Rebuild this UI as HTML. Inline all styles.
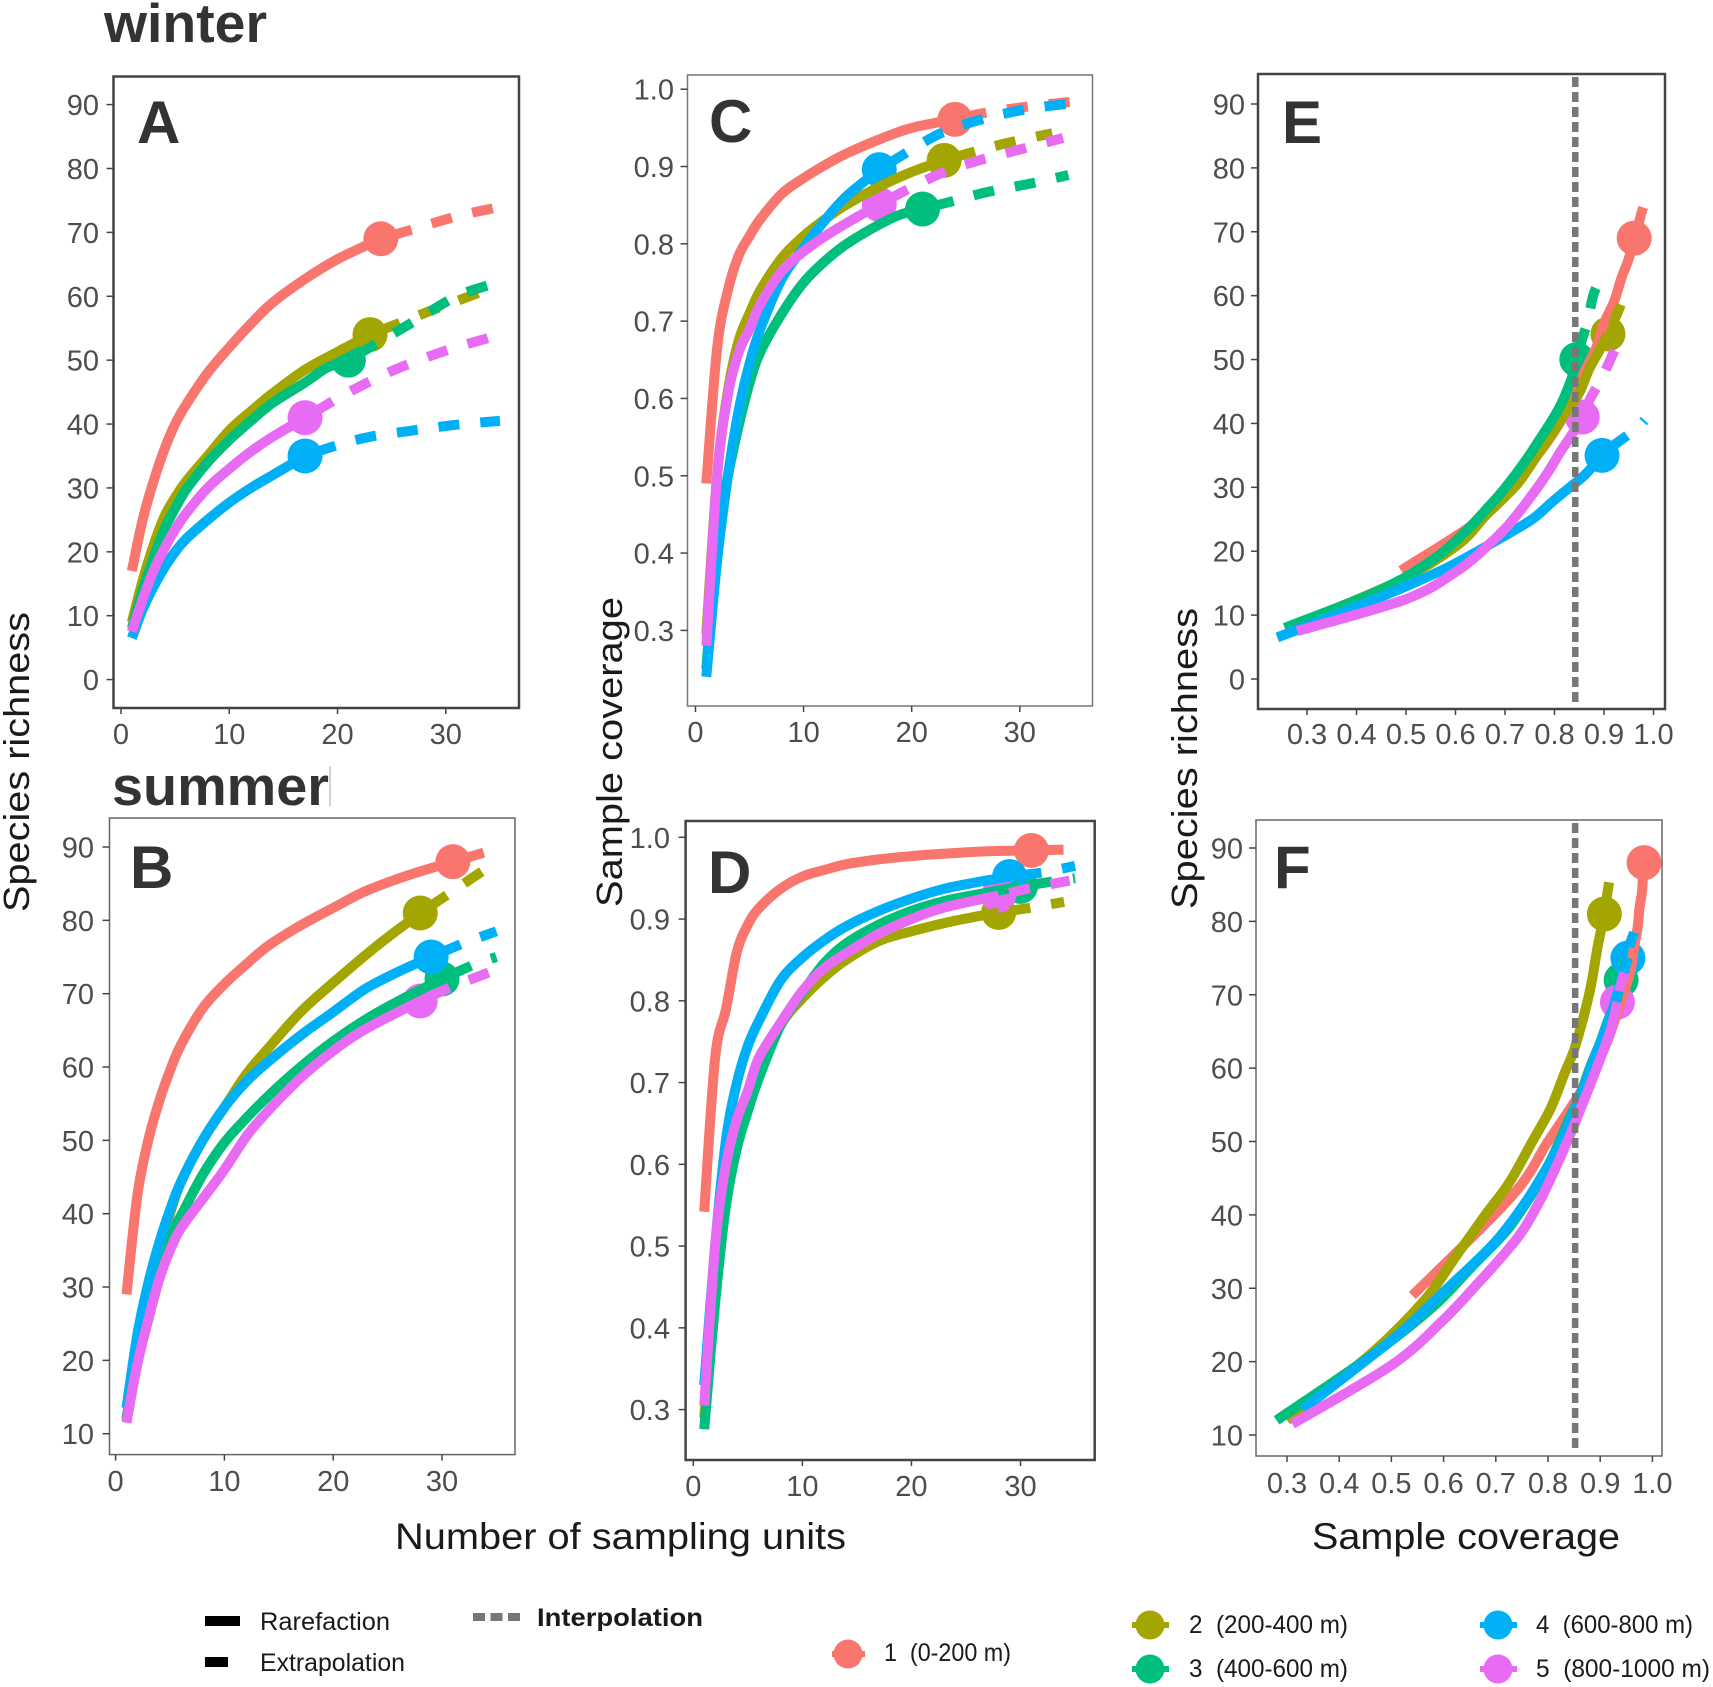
<!DOCTYPE html>
<html lang="en">
<head>
<meta charset="utf-8">
<title>Species richness and sample coverage curves</title>
<style>
html,body{margin:0;padding:0;background:#fff;}
svg{display:block;font-family:"Liberation Sans",sans-serif;}
</style>
</head>
<body>
<svg id="figure" xmlns="http://www.w3.org/2000/svg" width="1713" height="1687" viewBox="0 0 1713 1687">
  <rect x="0" y="0" width="1713" height="1687" fill="#ffffff"/>
  <text x="104" y="42" font-size="55" font-weight="bold" fill="#333333" textLength="163" lengthAdjust="spacingAndGlyphs">winter</text>
  <text x="112" y="805" font-size="55" font-weight="bold" fill="#333333" textLength="217" lengthAdjust="spacingAndGlyphs">summer</text>
  <line x1="330" y1="766" x2="330" y2="806" stroke="#c4c4c4" stroke-width="1.5"/>

  <g id="plots"></g>

  <text x="137" y="143" font-size="60" font-weight="bold" fill="#333333">A</text>
  <text x="130" y="888" font-size="60" font-weight="bold" fill="#333333">B</text>
  <text x="709" y="142" font-size="60" font-weight="bold" fill="#333333">C</text>
  <text x="708" y="893" font-size="60" font-weight="bold" fill="#333333">D</text>
  <text x="1282" y="143" font-size="60" font-weight="bold" fill="#333333">E</text>
  <text x="1274" y="888" font-size="60" font-weight="bold" fill="#333333">F</text>

  <text transform="translate(29,912) rotate(-90)" font-size="36" fill="#1a1a1a" textLength="300" lengthAdjust="spacingAndGlyphs">Species richness</text>
  <text transform="translate(622,907) rotate(-90)" font-size="36" fill="#1a1a1a" textLength="310" lengthAdjust="spacingAndGlyphs">Sample coverage</text>
  <text transform="translate(1197,909) rotate(-90)" font-size="36" fill="#1a1a1a" textLength="301" lengthAdjust="spacingAndGlyphs">Species richness</text>
  <text x="395" y="1549" font-size="37" fill="#1a1a1a" textLength="451" lengthAdjust="spacingAndGlyphs">Number of sampling units</text>
  <text x="1312" y="1549" font-size="37" fill="#1a1a1a" textLength="308" lengthAdjust="spacingAndGlyphs">Sample coverage</text>

  <g>
    <rect x="205" y="1616" width="35" height="10" fill="#000000"/>
    <text x="260" y="1630" font-size="25" fill="#1a1a1a" textLength="130" lengthAdjust="spacingAndGlyphs">Rarefaction</text>
    <rect x="205" y="1657" width="23" height="10" fill="#000000"/>
    <text x="260" y="1671" font-size="25" fill="#1a1a1a" textLength="145" lengthAdjust="spacingAndGlyphs">Extrapolation</text>
    <line x1="473" y1="1617" x2="520" y2="1617" stroke="#777777" stroke-width="8" stroke-dasharray="12 5.5"/>
    <text x="537" y="1626" font-size="25" font-weight="bold" fill="#1a1a1a" textLength="166" lengthAdjust="spacingAndGlyphs">Interpolation</text>
  </g>

  <g>
    <g>
      <line x1="832" y1="1654" x2="865" y2="1654" stroke="#F8766D" stroke-width="6"/>
      <circle cx="848" cy="1654" r="14.5" fill="#F8766D"/>
      <text x="884" y="1661" font-size="25" fill="#1a1a1a" xml:space="preserve" textLength="127" lengthAdjust="spacingAndGlyphs">1  (0-200 m)</text>
    </g>
    <g>
      <line x1="1132" y1="1625" x2="1169" y2="1625" stroke="#A3A500" stroke-width="6"/>
      <circle cx="1150" cy="1625" r="14.5" fill="#A3A500"/>
      <text x="1189" y="1633" font-size="25" fill="#1a1a1a" xml:space="preserve" textLength="159" lengthAdjust="spacingAndGlyphs">2  (200-400 m)</text>
    </g>
    <g>
      <line x1="1132" y1="1669" x2="1169" y2="1669" stroke="#00BF7D" stroke-width="6"/>
      <circle cx="1150" cy="1669" r="14.5" fill="#00BF7D"/>
      <text x="1189" y="1677" font-size="25" fill="#1a1a1a" xml:space="preserve" textLength="159" lengthAdjust="spacingAndGlyphs">3  (400-600 m)</text>
    </g>
    <g>
      <line x1="1480" y1="1625" x2="1517" y2="1625" stroke="#00B0F6" stroke-width="6"/>
      <circle cx="1498" cy="1625" r="14.5" fill="#00B0F6"/>
      <text x="1536" y="1633" font-size="25" fill="#1a1a1a" xml:space="preserve" textLength="157" lengthAdjust="spacingAndGlyphs">4  (600-800 m)</text>
    </g>
    <g>
      <line x1="1480" y1="1669" x2="1517" y2="1669" stroke="#E76BF3" stroke-width="6"/>
      <circle cx="1498" cy="1669" r="14.5" fill="#E76BF3"/>
      <text x="1536" y="1677" font-size="25" fill="#1a1a1a" xml:space="preserve" textLength="174" lengthAdjust="spacingAndGlyphs">5  (800-1000 m)</text>
    </g>
  </g>
</svg>

<script>
/* ---------- chart data ---------- */
const siteNames = ['site-1', 'site-2', 'site-3', 'site-4', 'site-5'];

/* winter: sampling units, richness, coverage for each elevation site */
const winterUnits1 = [1,2,3,4,5,6,8,10,12,14,17,20,24,27,31,35];
const winterRichness1 = [17,25,31,36,40,43,48,52,55.7,59,62.7,65.8,69,70.5,72.5,74];
const winterCoverage1 = [.49,.665,.74,.785,.81,.832,.865,.885,.902,.917,.935,.95,.961,.97,.978,.984];
const winterCoveragePanelE1 = [.49,.65,.72,.775,.81,.83,.86,.885,.9,.92,.935,.95,.961,.968,.974,.98];

const winterUnits2 = [1,2,3,4,5,6,8,10,12,14,17,20,23,26,29,33];
const winterRichness2 = [9,15.5,21,25.5,28.5,31,35,39,42,44.8,48.5,51.3,54,56,58,60.5];
const winterCoverage2 = [.295,.5,.61,.675,.71,.74,.782,.81,.832,.851,.874,.893,.908,.92,.931,.943];
const winterCoveragePanelE2 = [.295,.49,.605,.66,.7,.73,.765,.8,.825,.85,.87,.89,.908,.92,.931,.943];

const winterUnits3 = [1,2,3,4,5,6,8,10,12,14,17,19,21,24,27,31,34.5];
const winterRichness3 = [8,14,19,23.5,26.8,29.7,34,37.5,40.5,43.3,46.5,48.8,50,53,56,60,62];
const winterCoverage3 = [.25,.42,.5,.565,.62,.66,.71,.75,.778,.8,.825,.838,.845,.856,.867,.878,.889];
const winterCoveragePanelE3 = [.255,.45,.56,.625,.665,.698,.74,.77,.795,.815,.832,.841,.845,.855,.867,.878,.889];

const winterUnits4 = [1,2,3,4,5,6,8,10,12,14,17,20,23,27,31,35];
const winterRichness4 = [6.5,11,14.5,17.5,20,22,25,27.7,30,32,35,36.7,38,39,39.9,40.5];
const winterCoverage4 = [.24,.39,.5,.585,.645,.69,.755,.795,.831,.862,.896,.922,.945,.963,.975,.982];
const winterCoveragePanelE4 = [.24,.39,.5,.585,.645,.69,.755,.795,.831,.862,.896,.922,.945,.963,.975,.982];

const winterUnits5 = [1,2,3,4,5,6,8,10,12,14,17,20,23,26,30,34];
const winterRichness5 = [7.5,12.5,17,20.5,23.5,26,30,33,35.7,38,41,44,46.7,49,51.5,53.5];
const winterCoverage5 = [.28,.5,.605,.66,.69,.722,.765,.79,.81,.827,.851,.873,.893,.907,.922,.937];
const winterCoveragePanelE5 = [.28,.5,.605,.66,.7,.727,.766,.792,.813,.833,.856,.873,.893,.907,.922,.937];

const winterReference = [24,23,21,17,17];

/* summer */
const summerUnits1 = [1,2,3,4,5,6,8,10,12,14,17,20,23,27,31,34];
const summerRichness1 = [29,42.5,50,55.3,59.5,63,68,71.3,74,76.5,79.3,81.7,84,86.2,88,89.3];
const summerCoverage1 = [.542,.73,.79,.86,.893,.913,.937,.952,.96,.967,.973,.977,.98,.983,.984,.985];
const summerCoveragePanelF1 = [.54,.73,.8,.85,.885,.91,.935,.95,.96,.965,.972,.975,.98,.982,.984,.985];

const summerUnits2 = [1,2,3,4,5,6,8,10,12,14,17,20,24,28,31,34];
const summerRichness2 = [12,21,28.5,34.5,40,44.3,50,54.5,59,62.5,67.5,71.5,76.5,81,84,87];
const summerCoverage2 = [.29,.44,.56,.636,.675,.71,.77,.803,.829,.85,.873,.885,.898,.908,.914,.921];
const summerCoveragePanelF2 = [.3,.46,.565,.625,.68,.725,.77,.805,.83,.85,.87,.883,.895,.908,.914,.921];

const summerUnits3 = [1,2,3,4,5,6,8,10,12,14,17,20,23,26,30,33,35];
const summerRichness3 = [12,21,27.5,33,37,39.7,45.3,49.7,53,56,60,63.5,66.5,69,72,74,75];
const summerCoverage3 = [.276,.43,.55,.62,.665,.705,.77,.81,.846,.87,.893,.91,.922,.93,.94,.946,.95];
const summerCoveragePanelF3 = [.28,.465,.58,.655,.71,.74,.79,.82,.84,.86,.88,.9,.915,.93,.94,.946,.95];

const summerUnits4 = [1,2,3,4,5,6,8,10,12,14,17,20,23,26,29,32,35];
const summerRichness4 = [13.5,23.5,30.5,36,40.5,44.3,50,54.5,58,60.7,64.3,67.5,70.7,73,75,76.9,78.5];
const summerCoverage4 = [.33,.5,.63,.7,.745,.775,.825,.853,.874,.891,.91,.925,.937,.945,.952,.957,.965];
const summerCoveragePanelF4 = [.33,.51,.615,.695,.745,.78,.825,.852,.872,.885,.905,.922,.935,.945,.953,.957,.965];

const summerUnits5 = [1,2,3,4,5,6,8,10,12,14,17,20,23,28,31,34.5];
const summerRichness5 = [11.5,19.5,25.5,31,35,38,42,46,50.5,54,58.5,62.2,65.2,69,71,73];
const summerCoverage5 = [.305,.5,.6,.655,.69,.73,.773,.812,.84,.858,.882,.9,.914,.929,.938,.947];
const summerCoveragePanelF5 = [.31,.5,.597,.67,.72,.753,.785,.812,.84,.86,.885,.905,.92,.933,.938,.947];

const summerReference = [31,28,30,29,28];

/* tick labels and coverage cut-offs */
const unitTicks = [0,10,20,30];
const coverageTicks = [0.3,0.4,0.5,0.6,0.7,0.8,0.9,1.0];
const winterRichnessTicks = [0,10,20,30,40,50,60,70,80,90];
const summerRichnessTicks = [10,20,30,40,50,60,70,80,90];
const winterCutoff = [0.842];
const summerCutoff = [0.852];

/* ---------- drawing ---------- */
const SVG_NS = 'http://www.w3.org/2000/svg';
const seriesColors = ['#F8766D', '#A3A500', '#00BF7D', '#00B0F6', '#E76BF3'];
const plotsRoot = document.getElementById('plots');

function linear(v0, p0, v1, p1) {
  return function (v) { return p0 + (v - v0) * (p1 - p0) / (v1 - v0); };
}

function make(tag, attrs, parent) {
  const el = document.createElementNS(SVG_NS, tag);
  Object.keys(attrs).forEach(function (k) { el.setAttribute(k, attrs[k]); });
  parent.appendChild(el);
  return el;
}

/* smooth curve through the data points (Catmull-Rom) */
function curvePath(xs, ys, sx, sy) {
  const p = xs.map(function (v, i) { return [sx(v), sy(ys[i])]; });
  let d = 'M' + p[0][0].toFixed(2) + ',' + p[0][1].toFixed(2);
  for (let i = 0; i < p.length - 1; i++) {
    const a = p[Math.max(i - 1, 0)], b = p[i], c = p[i + 1], e = p[Math.min(i + 2, p.length - 1)];
    const c1x = b[0] + (c[0] - a[0]) / 6, c1y = b[1] + (c[1] - a[1]) / 6;
    const c2x = c[0] - (e[0] - b[0]) / 6, c2y = c[1] - (e[1] - b[1]) / 6;
    d += 'C' + c1x.toFixed(2) + ',' + c1y.toFixed(2) + ' ' + c2x.toFixed(2) + ',' + c2y.toFixed(2) + ' ' + c[0].toFixed(2) + ',' + c[1].toFixed(2);
  }
  return d;
}

function drawPanel(cfg) {
  const id = cfg.id;
  const sx = linear(cfg.xA[0], cfg.xA[1], cfg.xB[0], cfg.xB[1]);
  const sy = linear(cfg.yA[0], cfg.yA[1], cfg.yB[0], cfg.yB[1]);
  const f = cfg.frame;

  const g = make('g', {}, plotsRoot);
  
  

  const border = make('rect', { x: f[0], y: f[1], width: f[2] - f[0], height: f[3] - f[1], fill: '#ffffff', stroke: cfg.border, 'stroke-width': cfg.borderWidth }, g);
  
  

  cfg.xTicks.forEach(function (t) {
    const tick = make('line', { x1: sx(t), y1: f[3], x2: sx(t), y2: f[3] + 6, stroke: '#444444', 'stroke-width': 1.5 }, g);
    
    
    const label = make('text', { x: sx(t), y: cfg.xBase, 'font-size': 29, fill: '#4D4D4D', 'text-anchor': 'middle' }, g);
    label.textContent = cfg.xFormat(t);
    
    
  });

  cfg.yTicks.forEach(function (t) {
    const tick = make('line', { x1: f[0] - 7, y1: sy(t), x2: f[0], y2: sy(t), stroke: '#444444', 'stroke-width': 1.5 }, g);
    
    
    const label = make('text', { x: cfg.yRight, y: sy(t) + 10.5, 'font-size': 29, fill: '#4D4D4D', 'text-anchor': 'end' }, g);
    label.textContent = cfg.yFormat(t);
    
    
  });

  /* reference markers sit beneath all the lines */
  cfg.series.forEach(function (s, i) {
    const k = s.units.indexOf(s.ref);
    const dot = make('circle', { cx: sx(s.x[k]), cy: sy(s.y[k]), r: 17.5, fill: seriesColors[i] }, g);
    
    
  });

  cfg.series.forEach(function (s, i) {
    const k = s.units.indexOf(s.ref);
    const solid = make('path', {
      d: curvePath(s.x.slice(0, k + 1), s.y.slice(0, k + 1), sx, sy),
      fill: 'none', stroke: seriesColors[i], 'stroke-width': 10, 'stroke-linejoin': 'round'
    }, g);
    
    

    const dashed = make('path', {
      d: curvePath(s.x.slice(k), s.y.slice(k), sx, sy),
      fill: 'none', stroke: seriesColors[i], 'stroke-width': 10, 'stroke-linejoin': 'round',
      'stroke-dasharray': '21 21', 'stroke-dashoffset': -11
    }, g);
    
    
  });

  if (cfg.cutoff) {
    cfg.cutoff.forEach(function (c) {
      const vline = make('line', {
        x1: sx(c), y1: f[1] + 3, x2: sx(c), y2: f[3] - 3,
        stroke: '#777777', 'stroke-width': 6.5, 'stroke-dasharray': '10 5'
      }, g);
      
      
    });
  }
}

function fmtInt(v) { return String(v); }
function fmtCov(v) { return v.toFixed(1); }

function buildSeries(unitsList, xList, yList, refs) {
  return unitsList.map(function (u, i) {
    return { units: u, x: xList[i], y: yList[i], ref: refs[i] };
  });
}

const wU = [winterUnits1, winterUnits2, winterUnits3, winterUnits4, winterUnits5];
const wR = [winterRichness1, winterRichness2, winterRichness3, winterRichness4, winterRichness5];
const wC = [winterCoverage1, winterCoverage2, winterCoverage3, winterCoverage4, winterCoverage5];
const wCE = [winterCoveragePanelE1, winterCoveragePanelE2, winterCoveragePanelE3, winterCoveragePanelE4, winterCoveragePanelE5];
const sU = [summerUnits1, summerUnits2, summerUnits3, summerUnits4, summerUnits5];
const sR = [summerRichness1, summerRichness2, summerRichness3, summerRichness4, summerRichness5];
const sC = [summerCoverage1, summerCoverage2, summerCoverage3, summerCoverage4, summerCoverage5];
const sCF = [summerCoveragePanelF1, summerCoveragePanelF2, summerCoveragePanelF3, summerCoveragePanelF4, summerCoveragePanelF5];

drawPanel({ id: 'a', frame: [113.5,76.5,519,708], border: '#444444', borderWidth: 2.5,
  xA: [0,121], xB: [30,445.8], yA: [0,679.6], yB: [90,104.6],
  xTicks: unitTicks, yTicks: winterRichnessTicks, xFormat: fmtInt, yFormat: fmtInt, xBase: 744, yRight: 99,
  series: buildSeries(wU, wU, wR, winterReference) });

drawPanel({ id: 'c', frame: [687.5,75,1092.5,706], border: '#777777', borderWidth: 1.5,
  xA: [0,695.5], xB: [30,1019.8], yA: [0.3,630.4], yB: [1,89.2],
  xTicks: unitTicks, yTicks: coverageTicks, xFormat: fmtInt, yFormat: fmtCov, xBase: 742, yRight: 674,
  series: buildSeries(wU, wU, wC, winterReference) });

drawPanel({ id: 'e', frame: [1258,74,1665,709], border: '#444444', borderWidth: 2.5,
  xA: [0.3,1307], xB: [1,1653.5], yA: [0,679], yB: [90,104],
  xTicks: coverageTicks, yTicks: winterRichnessTicks, xFormat: fmtCov, yFormat: fmtInt, xBase: 744, yRight: 1245,
  cutoff: winterCutoff,
  series: buildSeries(wU, wCE, wR, winterReference) });

drawPanel({ id: 'b', frame: [109.5,818,515,1454.6], border: '#666666', borderWidth: 1.5,
  xA: [0,115.6], xB: [30,442], yA: [10,1433.7], yB: [90,847],
  xTicks: unitTicks, yTicks: summerRichnessTicks, xFormat: fmtInt, yFormat: fmtInt, xBase: 1491, yRight: 94,
  series: buildSeries(sU, sU, sR, summerReference) });

drawPanel({ id: 'd', frame: [685.6,821,1094.7,1460], border: '#444444', borderWidth: 2.5,
  xA: [0,693.3], xB: [30,1020.5], yA: [0.3,1409.6], yB: [1,837.3],
  xTicks: unitTicks, yTicks: coverageTicks, xFormat: fmtInt, yFormat: fmtCov, xBase: 1496, yRight: 670,
  series: buildSeries(sU, sU, sC, summerReference) });

drawPanel({ id: 'f', frame: [1256,820,1662,1456], border: '#666666', borderWidth: 1.5,
  xA: [0.3,1287], xB: [1,1652.4], yA: [10,1435], yB: [90,848],
  xTicks: coverageTicks, yTicks: summerRichnessTicks, xFormat: fmtCov, yFormat: fmtInt, xBase: 1493, yRight: 1243,
  cutoff: summerCutoff,
  series: buildSeries(sU, sCF, sR, summerReference) });
</script>
</body>
</html>
